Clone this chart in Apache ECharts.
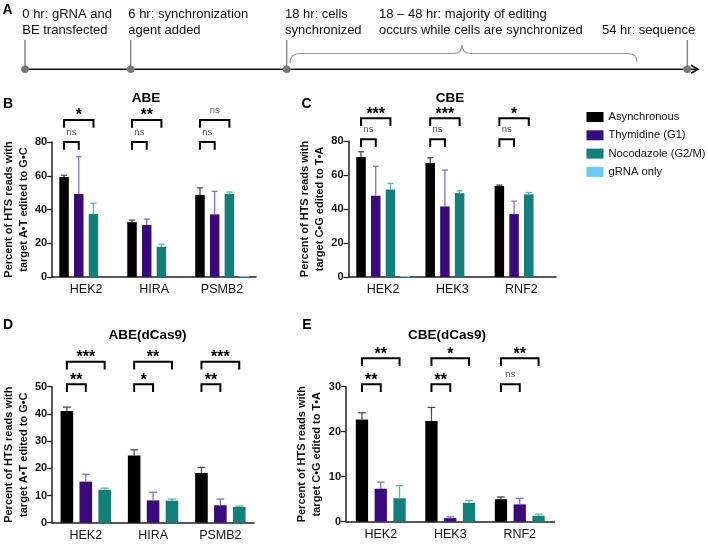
<!DOCTYPE html>
<html><head><meta charset="utf-8">
<script src="https://cdn.jsdelivr.net/npm/echarts@6/dist/echarts.min.js"></script>
<style>html,body{margin:0;padding:0;background:#fff}#c{width:708px;height:545px}</style>
</head><body><div id="c"></div>
<script>
// ---------- data ----------
const seriesNames = ['Asynchronous', 'Thymidine (G1)', 'Nocodazole (G2/M)', 'gRNA only'];
const catsABE = ['HEK2', 'HIRA', 'PSMB2'];
const catsCBE = ['HEK2', 'HEK3', 'RNF2'];

// B: ABE
const abeAsync = [59.3, 32.5, 48.6], abeAsyncErr = [60.3, 33.7, 52.8];
const abeThy   = [49.2, 30.8, 37.1], abeThyErr   = [71.2, 34.3, 50.8];
const abeNoc   = [37.3, 17.9, 49.2], abeNocErr   = [43.7, 19.4, 50.4];
const abeGrna  = [0, 0, 0.6];
const abeSigInner = ['ns', 'ns', 'ns'];
const abeSigOuter = ['*', '**', 'ns'];
const abeTicks = [0, 80, 20];

// C: CBE
const cbeAsync = [70.6, 67.0, 53.5], cbeAsyncErr = [73.7, 70.2, 54.1];
const cbeThy   = [47.8, 41.5, 37.0], cbeThyErr   = [65.1, 62.9, 44.6];
const cbeNoc   = [51.5, 49.3, 48.6], cbeNocErr   = [55.0, 50.7, 49.7];
const cbeGrna  = [0.6, 0, 0];
const cbeSigInner = ['ns', 'ns', 'ns'];
const cbeSigOuter = ['***', '***', '*'];
const cbeTicks = [0, 80, 20];

// D: ABE(dCas9)
const abedAsync = [41.05, 24.75, 18.3], abedAsyncErr = [42.5, 26.8, 20.3];
const abedThy   = [15.1, 8.2, 6.4],     abedThyErr   = [17.8, 11.2, 8.7];
const abedNoc   = [12.1, 8.1, 5.8],     abedNocErr   = [12.7, 8.7, 6.1];
const abedSigInner = ['**', '*', '**'];
const abedSigOuter = ['***', '**', '***'];
const abedTicks = [0, 50, 10];

// E: CBE(dCas9)
const cbedAsync = [22.7, 22.4, 5.0], cbedAsyncErr = [24.2, 25.4, 5.5];
const cbedThy   = [7.33, 0.8, 3.85], cbedThyErr   = [8.8, 1.1, 5.2];
const cbedNoc   = [5.2, 4.2, 1.33],  cbedNocErr   = [8.0, 4.7, 1.7];
const cbedSigInner = ['**', '**', 'ns'];
const cbedSigOuter = ['**', '*', '**'];
const cbedTicks = [0, 30, 10];

// ---------- styles ----------
const FONT = '"Liberation Sans", Arial, Helvetica, sans-serif';
const fillColors = ['#000000', '#3b0a7a', '#127f79', '#6cc9f5'];
const errColors  = ['#4d4d4d', '#8d6cc8', '#5ab5b0', '#6cc9f5'];
const yTitleABE = 'Percent of HTS reads with\ntarget A\u2022T edited to G\u2022C';
const yTitleCBE = 'Percent of HTS reads with\ntarget C\u2022G edited to T\u2022A';

const panels = [
  { cats: catsABE, ticks: abeTicks, yTitle: yTitleABE,
    vals: [abeAsync, abeThy, abeNoc, abeGrna], errs: [abeAsyncErr, abeThyErr, abeNocErr, null],
    inner: abeSigInner, outer: abeSigOuter,
    grid: { left: 48, top: 142, width: 208, height: 135 }, bw: 9.5, gap: 5.2, lv: [0, 22] },
  { cats: catsCBE, ticks: cbeTicks, yTitle: yTitleCBE,
    vals: [cbeAsync, cbeThy, cbeNoc, cbeGrna], errs: [cbeAsyncErr, cbeThyErr, cbeNocErr, null],
    inner: cbeSigInner, outer: cbeSigOuter,
    grid: { left: 348.5, top: 141, width: 207.5, height: 136 }, bw: 9.5, gap: 5.2, lv: [1.7, 22.7] },
  { cats: catsABE, ticks: abedTicks, yTitle: yTitleABE,
    vals: [abedAsync, abedThy, abedNoc], errs: [abedAsyncErr, abedThyErr, abedNocErr],
    inner: abedSigInner, outer: abedSigOuter,
    grid: { left: 44.5, top: 386.7, width: 209.5, height: 136 }, bw: 12.6, gap: 6.3, lv: [2.4, 25] },
  { cats: catsCBE, ticks: cbedTicks, yTitle: yTitleCBE,
    vals: [cbedAsync, cbedThy, cbedNoc], errs: [cbedAsyncErr, cbedThyErr, cbedNocErr],
    inner: cbedSigInner, outer: cbedSigOuter,
    grid: { left: 346, top: 386.7, width: 208.5, height: 135 }, bw: 12.3, gap: 6.5, lv: [2.4, 28.4] }
];

function errRender(slot, n, bw, gap, color) {
  return function (params, api) {
    const ci = api.value(0);
    const top = api.coord([ci, api.value(1)]);
    const base = api.coord([ci, api.value(2)]);
    const x = top[0] + (slot - (n - 1) / 2) * (bw + gap);
    const cw = bw * 0.62;
    return { type: 'group', children: [
      { type: 'line', shape: { x1: x, y1: base[1], x2: x, y2: top[1] }, style: { stroke: color, lineWidth: 1.3 } },
      { type: 'line', shape: { x1: x - cw / 2, y1: top[1], x2: x + cw / 2, y2: top[1] }, style: { stroke: color, lineWidth: 1.3 } }
    ]};
  };
}

function bracketRender(labels, n, bw, gap, levelPx, toSlot) {
  return function (params, api) {
    const ci = api.value(0);
    const p = api.coord([ci, api.value(1)]);
    const step = bw + gap;
    const x1 = p[0] + (0 - (n - 1) / 2) * step;
    const x2 = p[0] + (toSlot - (n - 1) / 2) * step;
    const y = p[1] - levelPx;
    const arm = 7.8;
    const lab = labels[params.dataIndex];
    const ns = lab === 'ns';
    return { type: 'group', children: [
      { type: 'polyline', shape: { points: [[x1, y + arm], [x1, y], [x2, y], [x2, y + arm]] },
        style: { stroke: '#000', lineWidth: 2, fill: null } },
      { type: 'text', x: (x1 + x2) / 2, y: y - (ns ? 9.5 : 4.2),
        style: { text: lab, align: 'center', verticalAlign: 'middle', fontFamily: FONT,
                 fontSize: ns ? 9.5 : 16, fontWeight: ns ? 'normal' : 'bold', fill: ns ? '#555' : '#000' } }
    ]};
  };
}

const grid = [], xAxis = [], yAxis = [], series = [];
panels.forEach((pn, gi) => {
  grid.push(pn.grid);
  xAxis.push({
    type: 'category', gridIndex: gi, data: pn.cats,
    axisLine: { lineStyle: { color: '#222', width: 1.5 } },
    axisTick: { alignWithLabel: true, length: 4, lineStyle: { color: '#222', width: 1.3 } },
    axisLabel: { fontFamily: FONT, fontSize: 12.5, color: '#111', margin: 6.5 }
  });
  yAxis.push({
    type: 'value', gridIndex: gi, min: pn.ticks[0], max: pn.ticks[1], interval: pn.ticks[2],
    splitLine: { show: false },
    axisLine: { show: true, lineStyle: { color: '#222', width: 1.5 } },
    axisTick: { show: true, length: 5, lineStyle: { color: '#222', width: 1.3 } },
    axisLabel: { fontFamily: FONT, fontSize: 11, fontWeight: 'bold', color: '#111', margin: 5 },
    name: pn.yTitle, nameLocation: 'middle', nameGap: 16,
    nameTextStyle: { fontFamily: FONT, fontSize: 11, fontWeight: 'bold', color: '#111', lineHeight: 15 }
  });
  const n = pn.vals.length;
  pn.vals.forEach((v, si) => {
    series.push({
      type: 'bar', name: seriesNames[si], xAxisIndex: gi, yAxisIndex: gi, data: v,
      barWidth: pn.bw, barGap: (pn.gap / pn.bw * 100) + '%',
      itemStyle: { color: fillColors[si] }, emphasis: { disabled: true }, animation: false
    });
  });
  pn.errs.forEach((e, si) => {
    if (!e) return;
    series.push({
      type: 'custom', xAxisIndex: gi, yAxisIndex: gi, z: 5, animation: false,
      renderItem: errRender(si, n, pn.bw, pn.gap, errColors[si]),
      encode: { x: 0, y: [1, 2] },
      data: e.map((t, i) => [i, t, pn.vals[si][i]])
    });
  });
  [[pn.inner, 1, pn.lv[0]], [pn.outer, 2, pn.lv[1]]].forEach(([labs, toSlot, lvl]) => {
    series.push({
      type: 'custom', xAxisIndex: gi, yAxisIndex: gi, z: 6, animation: false, clip: false,
      renderItem: bracketRender(labs, n, pn.bw, pn.gap, lvl, toSlot),
      encode: { x: 0, y: 1 },
      data: labs.map((l, i) => [i, pn.ticks[1]])
    });
  });
});

// ---------- panel A timeline + titles ----------
const T13 = { fontFamily: FONT, fontSize: 13, fill: '#111', lineHeight: 16, align: 'left', verticalAlign: 'top' };
const g = [];
function txt(x, y, text, extra) { g.push({ type: 'text', x, y, silent: true, style: Object.assign({}, T13, { text }, extra || {}) }); }
[25, 130.7, 286.7, 687.3].forEach(x => {
  g.push({ type: 'line', shape: { x1: x, y1: 40, x2: x, y2: 69.3 }, style: { stroke: '#8a8a8a', lineWidth: 1.5 } });
});
g.push({ type: 'line', shape: { x1: 25, y1: 69.3, x2: 697, y2: 69.3 }, style: { stroke: '#111', lineWidth: 1.6 } });
g.push({ type: 'polyline', shape: { points: [[691, 65.3], [698, 69.3], [691, 73.3]] }, style: { stroke: '#111', lineWidth: 1.6, fill: null } });
[25, 130.7, 286.7, 687.3].forEach(x => {
  g.push({ type: 'circle', shape: { cx: x, cy: 69.3, r: 3.8 }, style: { fill: '#777' } });
});
// brace
const braceStyle = { stroke: '#9a9a9a', lineWidth: 1.2, fill: null };
g.push({ type: 'bezierCurve', shape: { x1: 290, y1: 63, cpx1: 290, cpy1: 53.5, x2: 300, y2: 53.5 }, style: braceStyle });
g.push({ type: 'line', shape: { x1: 300, y1: 53.5, x2: 453, y2: 53.5 }, style: braceStyle });
g.push({ type: 'bezierCurve', shape: { x1: 453, y1: 53.5, cpx1: 462, cpy1: 53.5, x2: 462, y2: 45 }, style: braceStyle });
g.push({ type: 'bezierCurve', shape: { x1: 462, y1: 45, cpx1: 462, cpy1: 53.5, x2: 471, y2: 53.5 }, style: braceStyle });
g.push({ type: 'line', shape: { x1: 471, y1: 53.5, x2: 628, y2: 53.5 }, style: braceStyle });
g.push({ type: 'bezierCurve', shape: { x1: 628, y1: 53.5, cpx1: 637, cpy1: 53.5, x2: 637, y2: 62 }, style: braceStyle });
txt(22.3, 6, '0 hr: gRNA and\nBE transfected');
txt(128.3, 6, '6 hr: synchronization\nagent added');
txt(285, 6, '18 hr: cells\nsynchronized');
txt(379, 6, '18 \u2013 48 hr: majority of editing\noccurs while cells are synchronized');
txt(602, 22, '54 hr: sequence');
const L = { fontFamily: FONT, fontSize: 14, fontWeight: 'bold', fill: '#000', align: 'center', verticalAlign: 'middle' };
[['A', 7.5, 10], ['B', 8, 104], ['C', 306.5, 104], ['D', 8, 325], ['E', 307, 325]].forEach(([t, x, y]) => {
  g.push({ type: 'text', x, y, style: Object.assign({}, L, { text: t }) });
});
const TT = { fontFamily: FONT, fontSize: 13.5, fontWeight: 'bold', fill: '#000', align: 'center', verticalAlign: 'middle' };
[['ABE', 146, 98], ['CBE', 450, 98], ['ABE(dCas9)', 147.5, 335.5], ['CBE(dCas9)', 447, 335.5]].forEach(([t, x, y]) => {
  g.push({ type: 'text', x, y, style: Object.assign({}, TT, { text: t }) });
});

const chart = echarts.init(document.getElementById('c'), null, { renderer: 'canvas' });
chart.setOption({
  animation: false,
  backgroundColor: '#fff',
  grid, xAxis, yAxis, series,
  legend: {
    data: seriesNames, orient: 'vertical', left: 586.5, top: 111.5, padding: 0,
    itemWidth: 17, itemHeight: 10, itemGap: 7.3, icon: 'rect',
    textStyle: { fontFamily: FONT, fontSize: 11.2, color: '#111' }
  },
  graphic: g
});
</script></body></html>
